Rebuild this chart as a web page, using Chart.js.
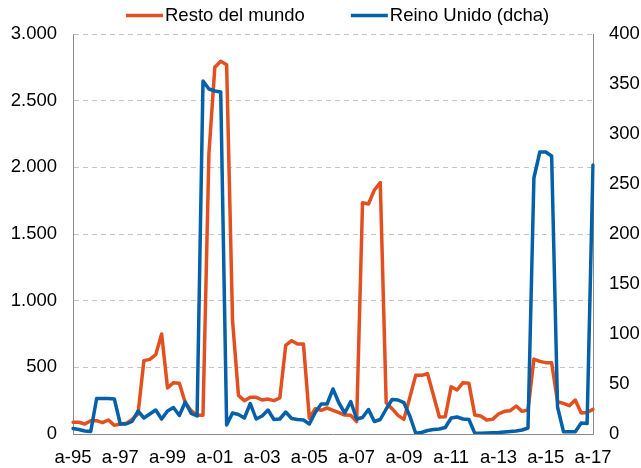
<!DOCTYPE html>
<html>
<head>
<meta charset="utf-8">
<script src="https://cdn.jsdelivr.net/npm/chart.js@4.4.1/dist/chart.umd.min.js"></script>
<style>
  html, body { margin: 0; padding: 0; background: #fff; }
  .chart-box { width: 641px; height: 468px; position: relative; }
</style>
</head>
<body>
<div class="chart-box">
  <canvas id="chart-flujos"></canvas>
</div>
<script>
// quarterly data, abril 1995 - abril 2017
var seriesNames = ['Resto del mundo', 'Reino Unido (dcha)'];
var seriesColors = ['#E2501F', '#0460A8'];

var restoMundo = [
  88, 88, 75, 100, 100, 85, 105, 65, 75, 80,
  110, 150, 550, 560, 595, 750, 345, 385, 380, 235,
  175, 140, 140, 2100, 2750, 2795, 2770, 850, 290, 250,
  275, 275, 255, 262, 250, 270, 665, 700, 675, 675,
  118, 190, 178, 195, 178, 160, 142, 140, 93, 1735,
  1725, 1830, 1885, 235, 190, 140, 110, 275, 440, 440,
  452, 290, 128, 130, 355, 330, 385, 380, 142, 135,
  105, 110, 150, 170, 175, 210, 170, 180, 562, 545,
  535, 535, 242, 230, 212, 255, 158, 162, 185
];

var reinoUnido = [
  5.5, 4.5, 3, 2.5, 35.5, 35.5, 35.5, 35, 10, 10,
  12.5, 23, 16, 20, 24, 15, 23, 26.5, 18.5, 32,
  20.5, 18, 353, 345, 343, 342, 9, 21, 19.5, 16,
  30.5, 15, 18, 24, 14.5, 15, 22, 15.5, 14.5, 14,
  10, 21.5, 30, 30, 45, 31, 21, 32.5, 15, 16.5,
  24.5, 12.5, 14.5, 25, 34.5, 34, 31.3, 18, 0.7, 1.5,
  3.5, 4.5, 5, 6.5, 16, 17, 15, 14.5, 0.8, 0.8,
  1, 1.2, 1.5, 2, 2.5, 3, 4, 6, 256, 282,
  282, 278, 27, 2.3, 2.3, 2.3, 11, 10.5, 269
];

// a = abril, j = julio, o = octubre, e = enero
var quarterLetters = ['a', 'j', 'o', 'e'];
var categories = [];
for (var i = 0; i < restoMundo.length; i++) {
    var yr = 1995 + Math.floor((i + 1) / 4);
    categories.push(quarterLetters[i % 4] + '-' + String(yr).slice(2));
}

var leftTicks = [0, 500, 1000, 1500, 2000, 2500, 3000];
var rightTicks = [0, 50, 100, 150, 200, 250, 300, 350, 400];

var fontFamily = '"Liberation Sans", Arial, sans-serif';
var fontSize = 18.5;

function miles(v) {
    return String(v).replace(/\B(?=(\d{3})+(?!\d))/g, '.');
}

// legend drawn by hand: short line + text, like the Excel one
var legendLines = {
    id: 'legendLines',
    afterDraw: function(chart) {
        var ctx = chart.ctx;
        ctx.save();
        ctx.font = fontSize + 'px ' + fontFamily;
        ctx.textBaseline = 'middle';
        ctx.textAlign = 'left';
        var x = 126, y = 15.5;
        for (var k = 0; k < seriesNames.length; k++) {
            ctx.strokeStyle = seriesColors[k];
            ctx.lineWidth = 3.5;
            ctx.beginPath();
            ctx.moveTo(x, y);
            ctx.lineTo(x + 37, y);
            ctx.stroke();
            ctx.fillStyle = '#000';
            ctx.fillText(seriesNames[k], x + 39, y);
            x = x + 39 + ctx.measureText(seriesNames[k]).width + 46;
        }
        ctx.restore();
    }
};

var ctx = document.getElementById('chart-flujos').getContext('2d');
var myChart = new Chart(ctx, {
    type: 'line',
    data: {
        labels: categories,
        datasets: [
            {
                label: seriesNames[1],
                data: reinoUnido,
                yAxisID: 'y1',
                borderColor: seriesColors[1],
                backgroundColor: seriesColors[1],
                borderWidth: 3.5,
                borderJoinStyle: 'round',
                borderCapStyle: 'round',
                pointRadius: 0,
                tension: 0,
                order: 0
            },
            {
                label: seriesNames[0],
                data: restoMundo,
                yAxisID: 'y',
                borderColor: seriesColors[0],
                backgroundColor: seriesColors[0],
                borderWidth: 3.5,
                borderJoinStyle: 'round',
                borderCapStyle: 'round',
                pointRadius: 0,
                tension: 0,
                order: 1
            }
        ]
    },
    options: {
        responsive: true,
        maintainAspectRatio: false,
        animation: false,
        layout: { padding: { top: 34, left: 0, right: 0, bottom: 0 } },
        plugins: {
            legend: { display: false },
            tooltip: { enabled: false }
        },
        scales: {
            x: {
                grid: { display: false },
                border: { display: true, color: '#8c8c8c', width: 1 },
                ticks: {
                    autoSkip: false,
                    maxRotation: 0,
                    minRotation: 0,
                    padding: 5,
                    color: '#000',
                    font: { family: fontFamily, size: fontSize },
                    callback: function(value, index) {
                        return index % 8 === 0 ? categories[index] : '';
                    }
                },
                afterFit: function(scale) { scale.height = 34; }
            },
            y: {
                position: 'left',
                min: leftTicks[0],
                max: leftTicks[leftTicks.length - 1],
                afterBuildTicks: function(scale) {
                    scale.ticks = leftTicks.map(function(v) { return { value: v }; });
                },
                grid: {
                    drawTicks: false,
                    lineWidth: 1,
                    color: function(c) { return c.tick && c.tick.value === 0 ? 'rgba(0,0,0,0)' : '#c4c4c4'; }
                },
                border: { display: true, color: '#8c8c8c', width: 1, dash: [5, 4] },
                ticks: {
                    padding: 16,
                    color: '#000',
                    font: { family: fontFamily, size: fontSize },
                    callback: function(value) { return miles(value); }
                },
                afterFit: function(scale) { scale.width = 73; }
            },
            y1: {
                position: 'right',
                min: rightTicks[0],
                max: rightTicks[rightTicks.length - 1],
                afterBuildTicks: function(scale) {
                    scale.ticks = rightTicks.map(function(v) { return { value: v }; });
                },
                grid: { display: false, drawTicks: false },
                border: { display: true, color: '#8c8c8c', width: 1 },
                ticks: {
                    padding: 16,
                    color: '#000',
                    font: { family: fontFamily, size: fontSize }
                },
                afterFit: function(scale) { scale.width = 48; }
            }
        }
    },
    plugins: [legendLines]
});
</script>
</body>
</html>
